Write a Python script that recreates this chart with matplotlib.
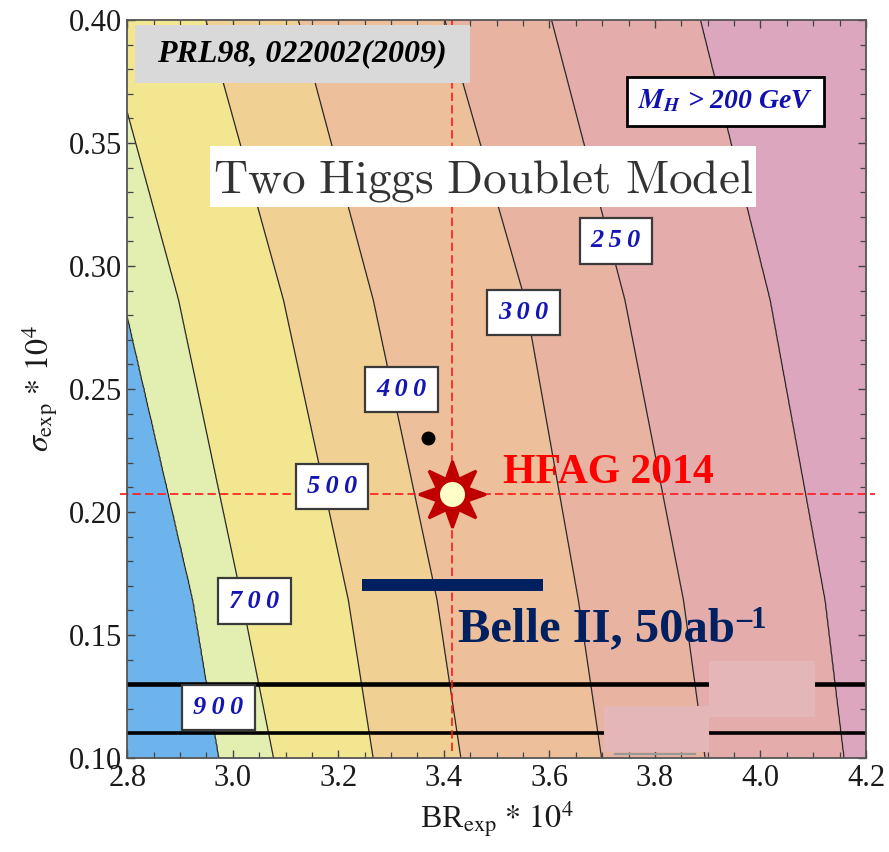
import numpy as np
import matplotlib.pyplot as plt
from matplotlib.patches import Rectangle

plt.rcParams['font.family'] = ['Liberation Serif', 'DejaVu Serif']
plt.rcParams['mathtext.fontset'] = 'stix'

# x position (BR_exp * 1e4) of each mass contour at a few sigma values
sigma_nodes = [0.10, 0.1642, 0.2862, 0.40]
line_900 = [2.974, 2.9245, 2.793, 2.644]
line_700 = [3.077, 3.017, 2.897, 2.752]
line_500 = [3.266, 3.219, 3.096, 2.949]
line_400 = [3.432, 3.387, 3.266, 3.124]
line_300 = [3.699, 3.655, 3.554, 3.402]
line_250 = [3.895, 3.854, 3.743, 3.604]
line_200 = [4.158, 4.122, 4.018, 3.886]
mass_levels = [900, 700, 500, 400, 300, 250, 200]

# where the contour labels sit
label_br = [2.973, 3.041, 3.188, 3.320, 3.551, 3.726]
label_sigma = [0.1205, 0.1638, 0.2104, 0.2498, 0.2811, 0.3102]

band_colors = ['#6cb4eb', '#e3eeb1', '#f3e690', '#f1d093',
               '#eebf9b', '#e8b3a1', '#e4acab', '#dda6bf']

# measurements
hfag_br, hfag_sigma = 3.416, 0.2073
old_br, old_sigma = 3.369, 0.230
belle_sigma = 0.1703
belle_half_width = 0.172
black_lines = [0.13, 0.11]

lines = [line_900, line_700, line_500, line_400, line_300, line_250, line_200]

br = np.linspace(2.8, 4.2, 701)
sig = np.linspace(0.10, 0.40, 301)
Z = np.empty((len(sig), len(br)))
for i, s in enumerate(sig):
    xs = [np.interp(s, sigma_nodes, ln) for ln in lines]
    xp = [xs[0] - 1.0] + xs + [xs[-1] + 1.0]
    Z[i] = np.interp(br, xp, np.arange(len(xp)))

fig = plt.figure(figsize=(8.89, 8.52), dpi=100)
ax = fig.add_axes([0.1432, 0.1103, 0.8309, 0.8662])

ax.contourf(br, sig, Z, levels=np.arange(len(lines) + 2), colors=band_colors, zorder=0)
ax.contour(br, sig, Z, levels=np.arange(1, len(lines) + 1), colors='#2a2a2a',
           linewidths=0.9, zorder=1)

for y, lw in zip(black_lines, [3.3, 2.6]):
    ax.axhline(y, color='black', lw=lw, zorder=2)

# patches covering parts of the lower right corner
ax.plot([3.724, 3.876], [0.1018, 0.1018], color='#999999', lw=1.6, zorder=3)
ax.add_patch(Rectangle((3.9026, 0.1168), 0.2008, 0.0226, fc='#e5b6b8', ec='none', zorder=4))
ax.add_patch(Rectangle((3.7035, 0.1026), 0.1991, 0.0185, fc='#e5b6b8', ec='none', zorder=4))

# HFAG crosshair
ax.plot([hfag_br, hfag_br], [0.1029, 0.40], color='#ff1a1a', lw=1.2, ls=(0, (5, 2.5)), zorder=3)
ax.plot([2.786, 4.217], [hfag_sigma, hfag_sigma], color='#ff1a1a', lw=1.2,
        ls=(0, (5, 2.5)), zorder=3, clip_on=False)

# Belle II projection
ax.plot([hfag_br - belle_half_width, hfag_br + belle_half_width], [belle_sigma, belle_sigma],
        color='#002060', lw=8.6, solid_capstyle='butt', zorder=5)

ax.plot(old_br, old_sigma, 'o', color='black', ms=9, zorder=5)
ax.plot(hfag_br, hfag_sigma, marker=(8, 1, 0), color='#c00000', ms=48, mec='#c00000',
        mew=2, mfc='#c00000', zorder=6)
ax.plot(hfag_br, hfag_sigma, 'o', color='#ffffc8', ms=18, mec='none', zorder=7)

label_box = dict(boxstyle='square,pad=0.42', fc='white', ec='#3a3a3a', lw=1.6)
for m, x, y in zip(mass_levels[:-1], label_br, label_sigma):
    ax.text(x, y, '\u2009'.join(str(m)), ha='center', va='center', fontsize=19,
            fontweight='bold', style='italic', color='#1515b5', bbox=label_box, zorder=8)

ax.text(3.934, 0.367, r'$\mathbfit{M}_{\mathbfit{H}}$ > %d GeV' % mass_levels[-1],
        ha='center', va='center', fontsize=20, fontweight='bold', style='italic',
        color='#1010b0', zorder=8,
        bbox=dict(boxstyle='square,pad=0.4', fc='white', ec='black', lw=2))

ax.text(3.512, 0.2118, 'HFAG 2014', color='#ff0000', fontsize=30, fontweight='bold',
        va='baseline', zorder=8)
belle = ax.text(3.427, 0.1473, 'Belle II, 50ab', color='#002060', fontsize=35,
                fontweight='bold', va='baseline', zorder=8)
ax.annotate('\u20131', xy=(1, 1), xycoords=belle, xytext=(1, 1), textcoords='offset points',
            ha='left', va='top', color='#002060', fontsize=22, fontweight='bold', zorder=8)

ax.add_patch(Rectangle((2.8146, 0.3744), 0.6344, 0.0236, fc='#d9d9d9', ec='none', zorder=8))
ax.text(3.13, 0.3862, 'PRL98, 022002(2009)', ha='center', va='center', fontsize=23,
        fontweight='bold', style='italic', color='black', zorder=9)

ax.add_patch(Rectangle((2.957, 0.324), 1.0346, 0.0248, fc='white', ec='none', zorder=8))
ax.text(3.474, 0.3297, r'$\mathrm{Two\ Higgs\ Doublet\ Model}$', math_fontfamily='cm',
        ha='center', va='baseline', fontsize=34, color='#333333', zorder=9)

ax.set_xlim(2.8, 4.2)
ax.set_ylim(0.10, 0.40)
ax.set_xticks(np.arange(2.8, 4.21, 0.2))
ax.set_xticks(np.arange(2.8, 4.21, 0.05), minor=True)
ax.set_yticks(np.arange(0.10, 0.401, 0.05))
ax.set_yticks(np.arange(0.10, 0.401, 0.01), minor=True)
ax.set_xticklabels(['%.1f' % v for v in np.arange(2.8, 4.21, 0.2)])
ax.set_yticklabels(['%.2f' % v for v in np.arange(0.10, 0.401, 0.05)])
ax.tick_params(which='both', direction='in', top=True, right=True, color='#444444',
               labelsize=22, labelcolor='#1a1a1a', pad=4)
ax.tick_params(which='major', length=6, width=1.0)
ax.tick_params(which='minor', length=4, width=0.9)
for sp in ax.spines.values():
    sp.set_color('#555555')
    sp.set_linewidth(1.3)
    sp.set_zorder(10)

ax.set_xlabel(r'BR$_{\rm exp}$ $*$ $10^4$', fontsize=23, labelpad=5, color='#1a1a1a')
ax.set_ylabel(r'$\sigma_{\rm exp}$ $*$ $10^4$', fontsize=23, labelpad=6, color='#1a1a1a')

fig.savefig('out.png', dpi=100)
